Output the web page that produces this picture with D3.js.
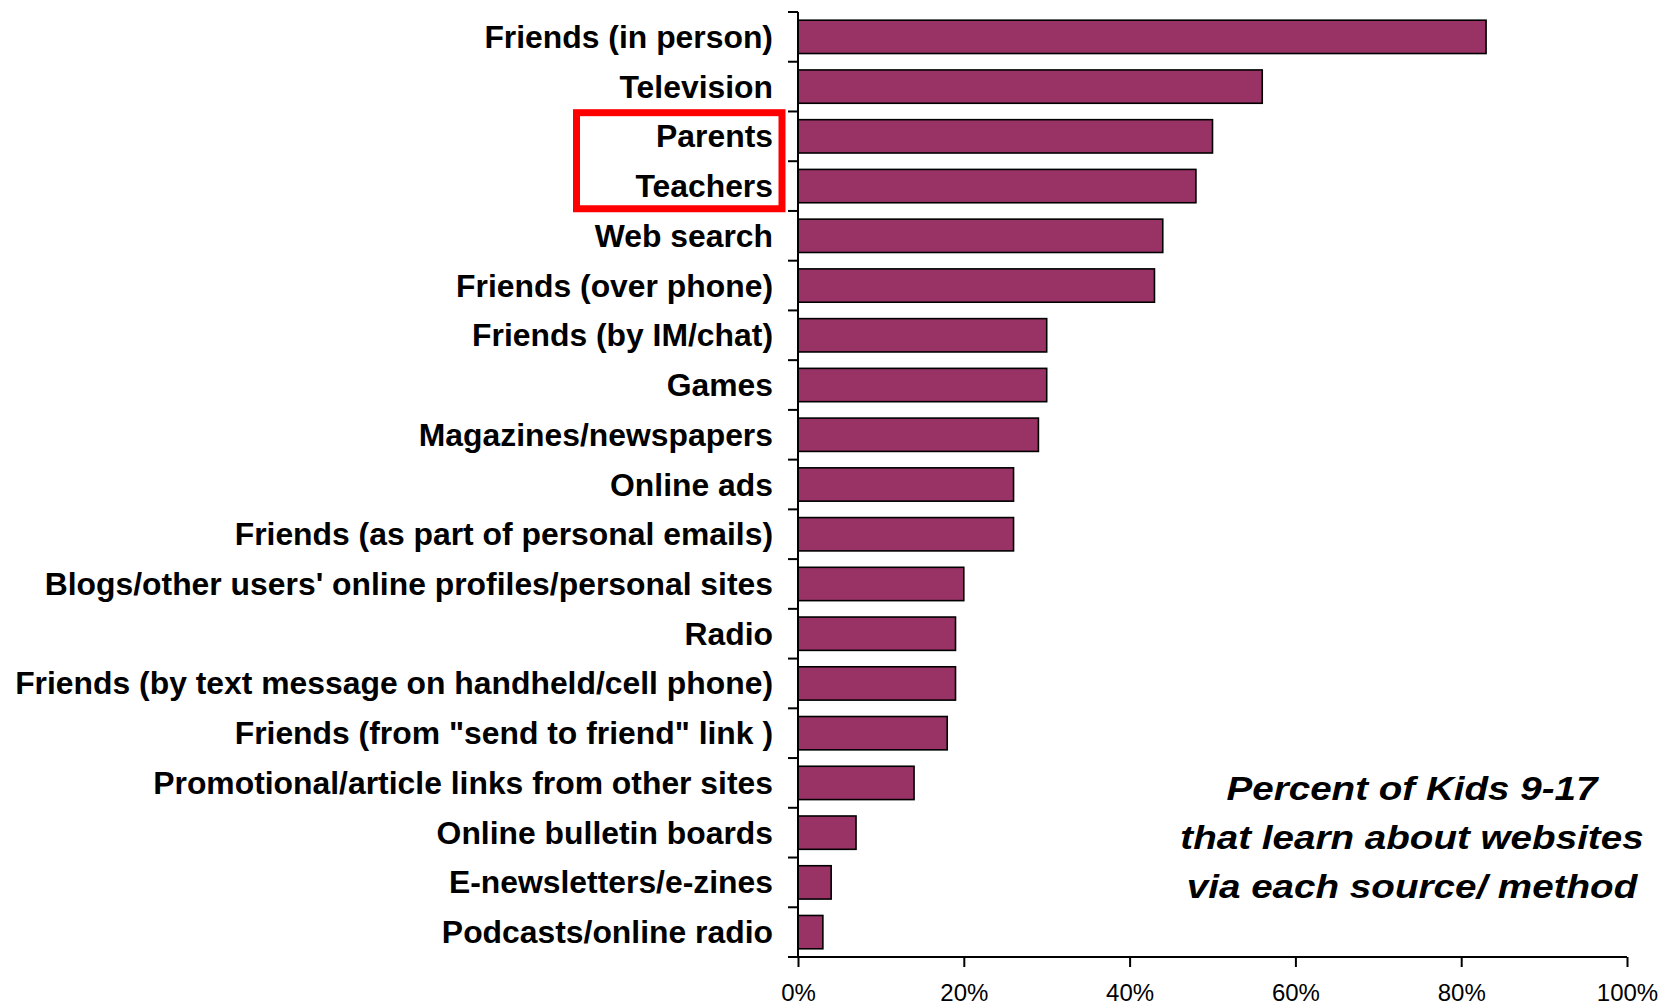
<!DOCTYPE html>
<html>
<head>
<meta charset="utf-8">
<script src="https://cdn.jsdelivr.net/npm/d3@7"></script>
<style>
  html, body { margin: 0; padding: 0; background: #ffffff; }
  svg { display: block; }
  text { font-family: "Liberation Sans", Arial, Helvetica, sans-serif; fill: #000; }
</style>
</head>
<body>
<svg id="chart" width="1671" height="1005"></svg>
<script>
// Sources through which kids learn about websites (top to bottom)
const categories = [
  "Friends (in person)",
  "Television",
  "Parents",
  "Teachers",
  "Web search",
  "Friends (over phone)",
  "Friends (by IM/chat)",
  "Games",
  "Magazines/newspapers",
  "Online ads",
  "Friends (as part of personal emails)",
  "Blogs/other users' online profiles/personal sites",
  "Radio",
  "Friends (by text message on handheld/cell phone)",
  "Friends (from \"send to friend\" link )",
  "Promotional/article links from other sites",
  "Online bulletin boards",
  "E-newsletters/e-zines",
  "Podcasts/online radio"
];

// Percent of kids citing each source
const values = [83, 56, 50, 48, 44, 43, 30, 30, 29, 26, 26, 20, 19, 19, 18, 14, 7, 4, 3];

// Axis ticks (percent)
const tickValues = [0, 20, 40, 60, 80, 100];

// Sources highlighted with a frame
const highlighted = ["Parents", "Teachers"];

const titleLines = [
  "Percent of Kids 9-17",
  "that learn about websites",
  "via each source/ method"
];

const svg = d3.select("#chart");
svg.append("rect").attr("width", 1671).attr("height", 1005).attr("fill", "#ffffff");

const plot = { left: 798, right: 1627, top: 12, bottom: 957 };

const x = d3.scaleLinear().domain([0, 100]).range([plot.left, plot.right]);

// Band scale for the category rows; bars sit inside each row
const y = d3.scaleBand()
  .domain(categories)
  .range([plot.top, plot.bottom])
  .paddingInner(0.33)
  .paddingOuter(0.165);

const step = y.step();
const rowTop = d => y(d) - step * 0.165;

// Bars
svg.append("g")
  .selectAll("rect")
  .data(categories)
  .join("rect")
  .attr("x", x(0))
  .attr("y", d => y(d))
  .attr("width", (d, i) => x(values[i]) - x(0))
  .attr("height", y.bandwidth())
  .attr("fill", "#993366")
  .attr("stroke", "#000")
  .attr("stroke-width", 1.6);

// Vertical axis: line plus ticks at row boundaries
const yAxis = svg.append("g");
yAxis.append("line")
  .attr("x1", plot.left).attr("x2", plot.left)
  .attr("y1", plot.top).attr("y2", plot.bottom)
  .attr("stroke", "#000").attr("stroke-width", 2);
const boundaries = categories.map(rowTop).concat([plot.bottom]);
yAxis.selectAll("line.tick")
  .data(boundaries)
  .join("line")
  .attr("class", "tick")
  .attr("x1", plot.left - 10).attr("x2", plot.left)
  .attr("y1", d => d).attr("y2", d => d)
  .attr("stroke", "#000").attr("stroke-width", 2);

// Category labels
svg.append("g")
  .selectAll("text")
  .data(categories)
  .join("text")
  .attr("transform", d => `translate(773,${y(d) + y.bandwidth() / 2 + 11}) scale(1.045,1)`)
  .attr("text-anchor", "end")
  .attr("font-size", 30.5)
  .attr("font-weight", "bold")
  .text(d => d);

// Horizontal axis
const xAxis = svg.append("g")
  .attr("transform", `translate(0,${plot.bottom})`)
  .call(d3.axisBottom(x)
    .tickValues(tickValues)
    .tickFormat(d => d + "%")
    .tickSize(10)
    .tickSizeOuter(0)
    .tickPadding(17));
xAxis.select(".domain").remove();
xAxis.append("line")
  .attr("x1", plot.left - 10).attr("x2", plot.right)
  .attr("y1", 0).attr("y2", 0)
  .attr("stroke", "#000").attr("stroke-width", 2);
xAxis.selectAll(".tick line").attr("stroke", "#000").attr("stroke-width", 2);
xAxis.selectAll(".tick text")
  .attr("font-size", 24)
  .attr("font-family", "\"Liberation Sans\", Arial, sans-serif")
  .attr("fill", "#000");

// Highlight frame around selected labels
const hlTop = y(highlighted[0]) - 7;
const hlBottom = y(highlighted[highlighted.length - 1]) + y.bandwidth() + 6;
svg.append("rect")
  .attr("x", 576.5)
  .attr("y", hlTop)
  .attr("width", 782 - 576.5)
  .attr("height", hlBottom - hlTop)
  .attr("fill", "none")
  .attr("stroke", "#ff0000")
  .attr("stroke-width", 7);

// Chart caption
svg.append("g")
  .selectAll("text")
  .data(titleLines)
  .join("text")
  .attr("transform", (d, i) => `translate(1412,${800 + i * 49}) scale(1.17,1)`)
  .attr("text-anchor", "middle")
  .attr("font-size", 33)
  .attr("font-weight", "bold")
  .attr("font-style", "italic")
  .text(d => d);
</script>
</body>
</html>
